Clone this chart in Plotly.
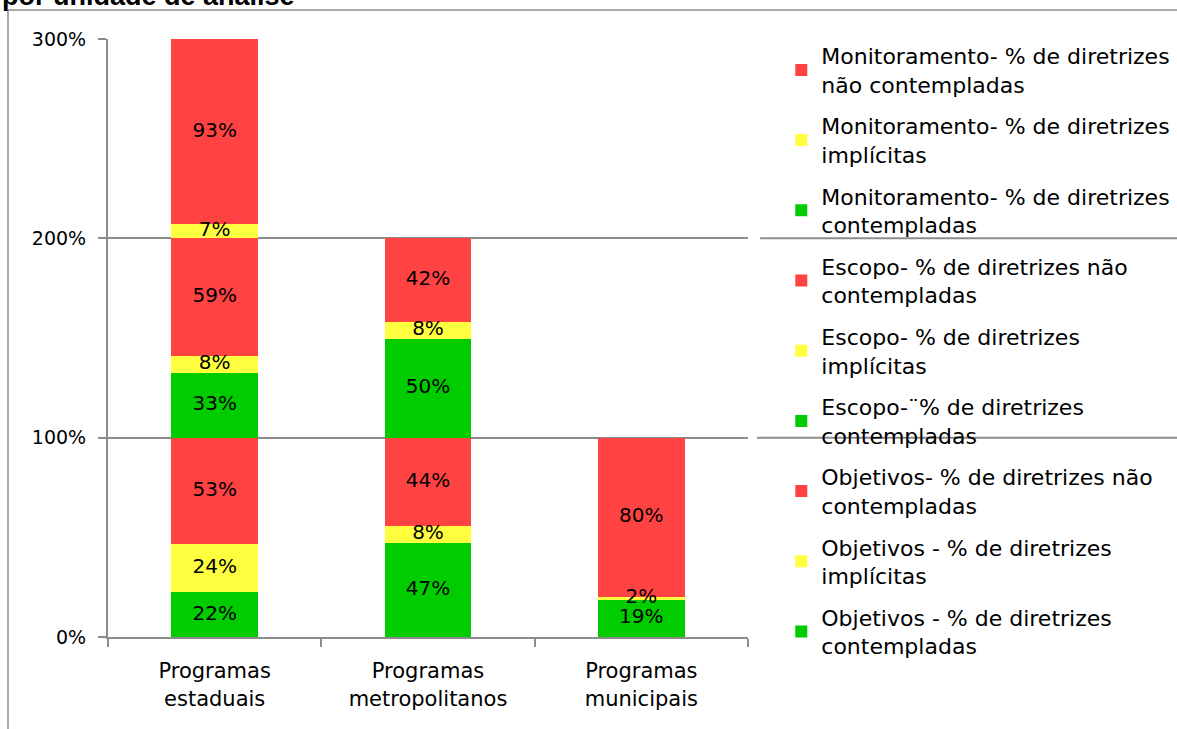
import numpy as np
import plotly.graph_objects as go

# Categories (program types)
categorias = ["Programas<br>estaduais", "Programas<br>metropolitanos", "Programas<br>municipais"]

# Percent of guidelines per analysis unit, by program type
obj_contempladas = [22.4, 47.4, 18.6]
obj_implicitas = [24.3, 8.2, 1.7]
obj_nao = [53.3, 44.4, 79.7]
esc_contempladas = [32.6, 49.6, 0]
esc_implicitas = [8.5, 8.4, 0]
esc_nao = [58.9, 42.0, 0]
mon_contempladas = [0, 0, 0]
mon_implicitas = [7.0, 0, 0]
mon_nao = [93.0, 0, 0]

y_ticks = [0, 100, 200, 300]
y_ticktext = [f"{v}%" for v in y_ticks]

VERDE = "#00CC00"
AMARELO = "#FFFF40"
VERMELHO = "#FF4343"
CINZA = "#8C8C8C"
FONTE = "DejaVu Sans"

series = [
    ("Objetivos - % de diretrizes<br>contempladas", obj_contempladas, VERDE),
    ("Objetivos - % de diretrizes<br>implícitas", obj_implicitas, AMARELO),
    ("Objetivos- % de diretrizes não<br>contempladas", obj_nao, VERMELHO),
    ("Escopo-¨% de diretrizes<br>contempladas", esc_contempladas, VERDE),
    ("Escopo- % de diretrizes<br>implícitas", esc_implicitas, AMARELO),
    ("Escopo- % de diretrizes não<br>contempladas", esc_nao, VERMELHO),
    ("Monitoramento- % de diretrizes<br>contempladas", mon_contempladas, VERDE),
    ("Monitoramento- % de diretrizes<br>implícitas", mon_implicitas, AMARELO),
    ("Monitoramento- % de diretrizes<br>não contempladas", mon_nao, VERMELHO),
]

fig = go.Figure()
base = np.zeros(len(categorias))
rot_x, rot_y, rot_txt = [], [], []
n = len(series)
for i, (nome, valores, cor) in enumerate(series):
    v = np.array(valores, dtype=float)
    fig.add_trace(go.Bar(
        x=categorias, y=valores, name=nome,
        marker=dict(color=cor, line=dict(width=0)),
        legendgroup=f"g{i}", legendrank=100 + (n - i), hoverinfo="skip",
    ))
    # value labels centred on each segment
    for k, cat in enumerate(categorias):
        if v[k] > 0:
            rot_x.append(cat)
            rot_y.append(base[k] + v[k] / 2)
            rot_txt.append(f"{v[k]:.0f}%")
    base += v

# labels drawn on top of all bar segments
fig.add_trace(go.Scatter(
    x=rot_x, y=rot_y, text=rot_txt, mode="text", showlegend=False,
    textfont=dict(family=FONTE, size=20, color="black"), cliponaxis=False,
    hoverinfo="skip",
))

fig.update_layout(
    width=1177, height=729,
    barmode="stack", bargap=0.595,
    paper_bgcolor="white", plot_bgcolor="white",
    margin=dict(l=108, r=429, t=39, b=92, autoexpand=False),
    font=dict(family=FONTE, size=20, color="black"),
    showlegend=True,
    legend=dict(
        traceorder="grouped", x=1.052, xanchor="left", y=1.007, yanchor="top",
        font=dict(family=FONTE, size=22, color="black"),
        bgcolor="rgba(0,0,0,0)", itemwidth=30, tracegroupgap=10, maxheight=720,
    ),
    xaxis=dict(
        showline=True, linecolor=CINZA, linewidth=2,
        ticks="outside", tickson="boundaries", ticklen=8, tickcolor=CINZA, tickwidth=2,
        ticklabelstandoff=14,
        tickfont=dict(family=FONTE, size=21, color="black"),
    ),
    yaxis=dict(
        range=[0, 300], tickmode="array", tickvals=y_ticks, ticktext=y_ticktext,
        showline=True, linecolor=CINZA, linewidth=2,
        ticks="outside", ticklen=8, tickcolor=CINZA, tickwidth=2,
        ticklabelstandoff=8,
        showgrid=True, gridcolor=CINZA, gridwidth=2, zeroline=False,
        tickfont=dict(family=FONTE, size=19, color="black"),
    ),
)

# Grid lines continuing behind the legend
for yv, x0 in [(200, 1.019), (100, 1.014)]:
    fig.add_shape(type="line", xref="paper", yref="y", x0=x0, x1=1.7, y0=yv, y1=yv,
                  line=dict(color=CINZA, width=2), layer="below")

# Chart frame (top and left edges)
fig.add_shape(type="line", xref="paper", yref="paper",
              x0=(8 - 108) / 640, x1=1.7, y0=1 + 29 / 598, y1=1 + 29 / 598,
              line=dict(color=CINZA, width=1.5))
fig.add_shape(type="line", xref="paper", yref="paper",
              x0=(8 - 108) / 640, x1=(8 - 108) / 640, y0=1 + 29 / 598, y1=-0.2,
              line=dict(color=CINZA, width=1.5))

# Title (partly above the visible area)
fig.add_annotation(text="<b>por unidade de análise</b>", xref="paper", yref="paper",
                   x=-108 / 640, y=1 + 43 / 598, xanchor="left", yanchor="middle",
                   showarrow=False, font=dict(family="Liberation Sans", size=27, color="black"))

fig.write_html("out.html")
